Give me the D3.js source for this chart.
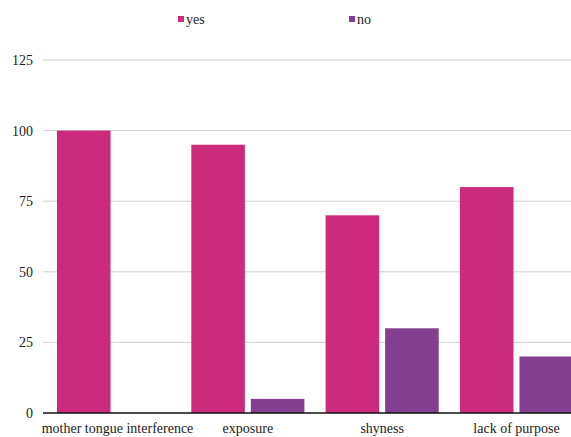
<!DOCTYPE html>
<html>
<head>
<meta charset="utf-8">
<script src="https://cdn.jsdelivr.net/npm/d3@7"></script>
<style>
  body { margin: 0; background: #fff; }
</style>
</head>
<body>
<div id="main"></div>
<script>
var categories = ["mother tongue interference", "exposure", "shyness", "lack of purpose"];
var seriesNames = ["yes", "no"];
var yesValues = [100, 95, 70, 80];
var noValues = [0, 5, 30, 20];
var yTicks = [0, 25, 50, 75, 100, 125];
var colors = {yes: "#cc2a7a", no: "#843f90"};

var ctx = {w: 571, h: 437, left: 43, top: 60, bottom: 413,
           font: "'Liberation Serif', serif"};

var svg = d3.select("#main").append("svg")
    .attr("width", ctx.w)
    .attr("height", ctx.h)
    .style("font-family", ctx.font);

var y = d3.scaleLinear().domain([0, 125]).range([ctx.bottom, ctx.top]);

var x0 = d3.scaleBand().domain(categories)
    .range([ctx.left, 587])
    .paddingInner(0.158)
    .paddingOuter(0.104);

var x1 = d3.scaleBand().domain(seriesNames)
    .range([0, x0.bandwidth()])
    .paddingInner(0.1);

// gridlines
svg.append("g").selectAll("line")
  .data(yTicks.filter(function(d){ return d > 0; }))
  .enter().append("line")
  .attr("x1", ctx.left).attr("x2", ctx.w)
  .attr("y1", function(d){ return y(d); })
  .attr("y2", function(d){ return y(d); })
  .style("stroke", "#d0d0d0");

// y tick labels
svg.append("g").selectAll("text")
  .data(yTicks)
  .enter().append("text")
  .attr("x", 33)
  .attr("y", function(d){ return y(d) + 5; })
  .attr("text-anchor", "end")
  .style("font-size", "14px")
  .style("fill", "#222")
  .text(function(d){ return d; });

// bars
var data = categories.map(function(c, i){
    return {cat: c, values: [{k: "yes", v: yesValues[i]}, {k: "no", v: noValues[i]}]};
});

svg.append("g").selectAll("g")
  .data(data)
  .enter().append("g")
  .attr("transform", function(d){ return "translate(" + x0(d.cat) + ",0)"; })
  .selectAll("rect")
  .data(function(d){ return d.values.filter(function(e){ return e.v > 0; }); })
  .enter().append("rect")
  .attr("x", function(d){ return x1(d.k); })
  .attr("width", x1.bandwidth())
  .attr("y", function(d){ return y(d.v); })
  .attr("height", function(d){ return y(0) - y(d.v); })
  .attr("fill", function(d){ return colors[d.k]; });

// x axis line
svg.append("line")
  .attr("x1", ctx.left).attr("x2", ctx.w)
  .attr("y1", y(0)).attr("y2", y(0))
  .style("stroke", "#111").style("stroke-width", 1.5);

// category labels (first one sits a little right of its group in the original)
svg.append("g").selectAll("text")
  .data(categories)
  .enter().append("text")
  .attr("x", function(d, i){ return x0(d) + x0.bandwidth()/2 + (i === 0 ? 4 : 0); })
  .attr("y", 433)
  .attr("text-anchor", "middle")
  .style("font-size", "14px")
  .style("fill", "#222")
  .text(function(d){ return d; });

// legend
var legendX = {yes: 178, no: 349};
var lg = svg.append("g").selectAll("g")
  .data(seriesNames)
  .enter().append("g")
  .attr("transform", function(d){ return "translate(" + legendX[d] + ",0)"; });
lg.append("rect")
  .attr("x", 0).attr("y", 16)
  .attr("width", 6).attr("height", 6)
  .attr("fill", function(d){ return colors[d]; });
lg.append("text")
  .attr("x", 8).attr("y", 24)
  .style("font-size", "14px")
  .style("fill", "#222")
  .text(function(d){ return d; });
</script>
</body>
</html>
